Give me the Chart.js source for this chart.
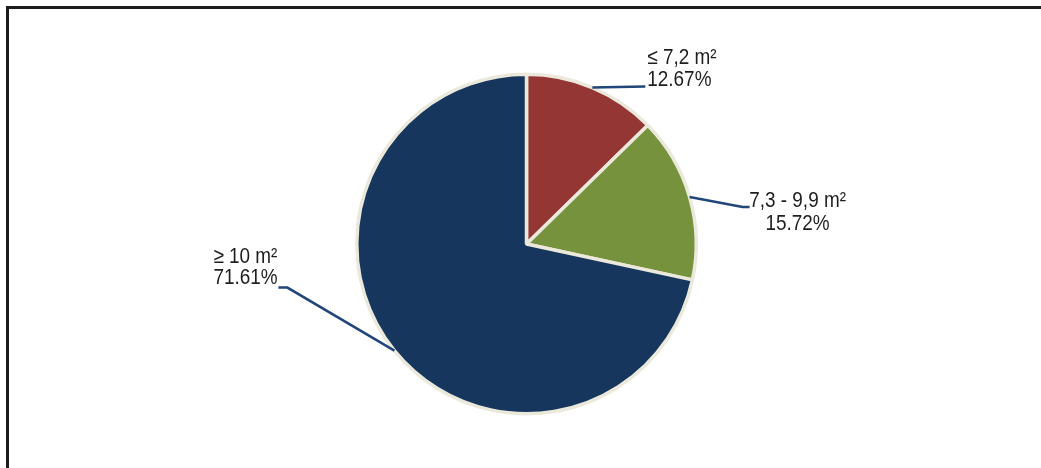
<!DOCTYPE html>
<html lang="pt-br">
  <head>
    <meta charset="UTF-8" />
    <script src="https://cdn.jsdelivr.net/npm/chart.js"></script>
    <title>Área por pessoa</title>
    <style>
      body { margin: 0; background: #fff; }
      .frame {
        position: absolute; left: 6px; top: 6px; right: 0; bottom: 0;
        border-left: 3px solid #1c1c1c; border-top: 3px solid #1c1c1c;
      }
      .chart-box { position: absolute; left: 0; top: 0; width: 1041px; height: 468px; }
    </style>
  </head>

  <body>
    <div class="frame"></div>
    <div class="chart-box">
      <canvas id="chart_area" width="1041" height="468"></canvas>
    </div>
  </body>
</html>

<script>
  const categorias = ['≤ 7,2 m²', '7,3 - 9,9 m²', '≥ 10 m²'];
  const percentuais = [12.67, 15.72, 71.61];
  const cores = ['#943634', '#76923c', '#17365d'];

  // onde cada linha de chamada dobra / termina, e como o texto fica
  const chamadas = [
    { dobra: [53, -1], fim: [53, -1], align: 'left', tx: 2, ty: [-29, -7] },
    { dobra: [53, 10], fim: [60, 10], align: 'center', tx: 48, ty: [-6, 17] },
    { dobra: [-107, -63], fim: [-116, -63], align: 'left', tx: -65, ty: [-31, -10] },
  ];

  const labelsPlugin = {
    id: 'labelsPlugin',
    afterDatasetsDraw(chart) {
      const ctx = chart.ctx;
      const arcs = chart.getDatasetMeta(0).data;

      arcs.forEach((arc, i) => {
        const p = arc.getProps(['x', 'y', 'startAngle', 'endAngle', 'outerRadius']);
        const meio = (p.startAngle + p.endAngle) / 2;
        const bx = p.x + Math.cos(meio) * p.outerRadius;
        const by = p.y + Math.sin(meio) * p.outerRadius;
        const c = chamadas[i];

        ctx.save();
        ctx.strokeStyle = '#21467a';
        ctx.lineWidth = 2.5;
        ctx.beginPath();
        ctx.moveTo(bx, by);
        ctx.lineTo(bx + c.dobra[0], by + c.dobra[1]);
        ctx.lineTo(bx + c.fim[0], by + c.fim[1]);
        ctx.stroke();

        const ex = bx + c.fim[0] + c.tx;
        const ey = by + c.fim[1];
        const linhas = [categorias[i], percentuais[i].toFixed(2) + '%'];
        ctx.fillStyle = '#1e1e1e';
        ctx.font = '22px "Liberation Sans", Arial, sans-serif';
        ctx.textAlign = c.align;
        ctx.textBaseline = 'middle';
        linhas.forEach((txt, k) => {
          ctx.save();
          ctx.translate(ex, ey + c.ty[k]);
          ctx.scale(0.86, 1);
          ctx.fillText(txt, 0, 0);
          ctx.restore();
        });
        ctx.restore();
      });
    },
  };

  new Chart(document.getElementById('chart_area'), {
    type: 'pie',
    data: {
      labels: categorias,
      datasets: [
        {
          data: percentuais,
          backgroundColor: cores,
          borderColor: '#ebe9dc',
          borderWidth: 3.5,
        },
      ],
    },
    options: {
      responsive: false,
      animation: false,
      layout: { padding: { left: 355, right: 343, top: 72, bottom: 52 } },
      plugins: {
        legend: { display: false },
        tooltip: { enabled: false },
      },
    },
    plugins: [labelsPlugin],
  });
</script>
